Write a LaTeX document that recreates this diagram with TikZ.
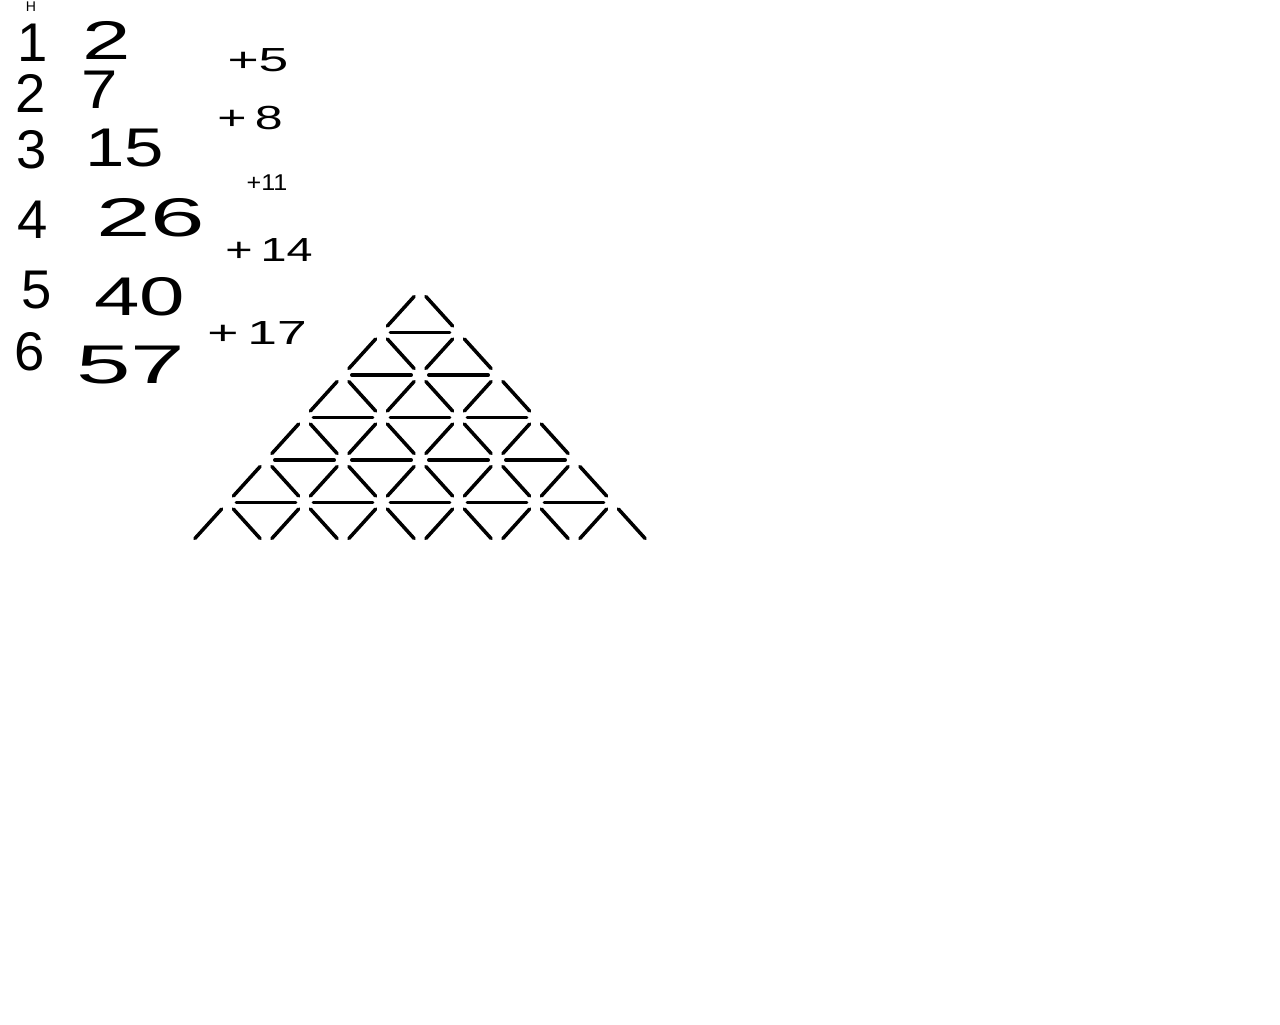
\documentclass[tikz,border=0pt]{standalone}
\usepackage{graphicx}
\usepackage{fontspec}
\setmainfont{Liberation Sans}
\usetikzlibrary{positioning,calc}

\newcommand{\wide}[2]{\scalebox{#1}[1]{#2}}

\tikzset{
  num/.style={inner sep=0pt,font=\fontsize{31}{31}\selectfont},
  diff/.style={inner sep=0pt,font=\fontsize{19}{19}\selectfont},
  stick/.style={line width=2pt,line cap=round,shorten <=5pt,shorten >=5pt}
}

\begin{document}
\begin{tikzpicture}[x=0.02cm,y=-0.02cm]
  \useasboundingbox (0,0) rectangle (1280,1024);
  % left column: n and value
  \node[inner sep=0pt,font=\fontsize{8}{8}\selectfont] (h) at (31,7) {H};
  \node[num] (n1) at (33,43) {1};  \node[num] (v1) at (107,40) {\wide{1.6}{2}};
  \node[num] (n2) at (31,93) {2};  \node[num] (v2) at (100,90) {\wide{1.2}{7}};
  \node[num] (n3) at (32,150) {3}; \node[num] (v3) at (125,148) {\wide{1.3}{15}};
  \node[num] (n4) at (33,220) {4}; \node[num] (v4) at (151,218) {\wide{1.8}{26}};
  \node[num] (n5) at (37,290) {5}; \node[num] (v5) at (140,297) {\wide{1.5}{40}};
  \node[num] (n6) at (30,352) {6}; \node[num] (v6) at (131,365) {\wide{1.8}{57}};
  % differences
  \node[diff] (d1) at (258,60) {\wide{1.6}{+5}};
  \node[diff] (d2) at (250,118) {\wide{1.5}{+\,8}};
  \node[diff,font=\fontsize{13}{13}\selectfont] (d3) at (267,183) {\wide{1.1}{+11}};
  \node[diff] (d4) at (269,250) {\wide{1.4}{+\,14}};
  \node[diff] (d5) at (257,333) {\wide{1.6}{+\,17}};
  % matchstick triangle, last row without bases
  \foreach \k in {1,...,6}{
    \foreach \j in {1,...,\k}{
      \pgfmathsetmacro{\ax}{420+(2*\j-\k-1)*38.5}
      \pgfmathsetmacro{\ay}{290+(\k-1)*42.5}
      \coordinate (t\k\j) at (\ax,\ay);
      \coordinate (l\k\j) at ($(t\k\j)+(-38.5,42.5)$);
      \coordinate (r\k\j) at ($(t\k\j)+(38.5,42.5)$);
      \draw[stick] (t\k\j) -- (l\k\j);
      \draw[stick] (t\k\j) -- (r\k\j);
      \ifnum\k<6 \draw[stick] (l\k\j) -- (r\k\j); \fi
    }
  }
\end{tikzpicture}
\end{document}
